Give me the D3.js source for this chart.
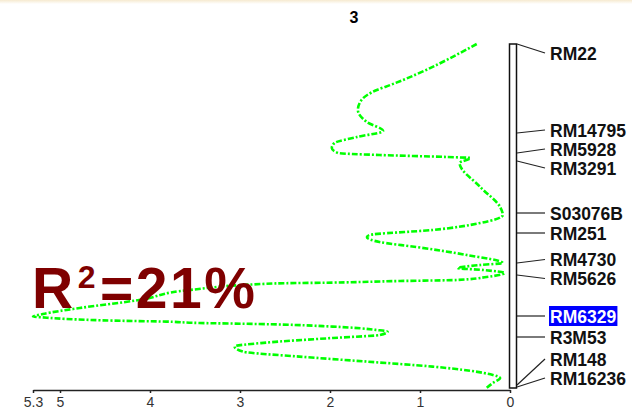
<!DOCTYPE html>
<html>
<head>
<meta charset="utf-8">
<script src="https://cdn.jsdelivr.net/npm/d3@7"></script>
<style>
  body { margin: 0; background: #fff; }
  svg { display: block; }
</style>
</head>
<body>
<div id="chart"></div>
<script>
// chromosome 3 LOD profile
var chromTitle = "3";
var r2Parts = ["R", "2", "=21%"];

var lodTicks = [5.3, 5, 4, 3, 2, 1, 0];

var markerNames = ["RM22", "RM14795", "RM5928", "RM3291", "S03076B", "RM251",
                   "RM4730", "RM5626", "RM6329", "R3M53", "RM148", "RM16236"];
var markerPos = [0, 44.5, 54.5, 58.5, 84.5, 94.5, 109.5, 115.5, 136, 146.5, 170.5, 171.5];
var highlighted = "RM6329";

// position along chromosome (cM) and LOD
var curvePos = [0, 20.5, 23, 28, 33, 39, 43.5, 46.5, 49.5, 52, 54.5, 55.5, 56.5, 57, 59.5,
                71.5, 81.5, 85.5, 89.5, 93, 95.5, 96.5, 99, 101.5, 105.5, 109.5, 110.5,
                112, 113, 114.5, 116.5, 118, 118.5, 119.3, 119.7, 123, 128, 132, 135,
                136.3, 136.7, 137.7, 138.3, 138.8, 139.5, 140, 141.3, 143, 143.8, 145.5,
                147, 149.3, 151.3, 153.8, 156.3, 158.8, 161.3, 165.5, 167, 169.5, 172];
var curveLod = [0.37, 1.33, 1.48, 1.65, 1.69, 1.59, 1.41, 1.70, 1.95, 1.98, 1.91, 1.45, 0.70, 0.44, 0.56,
                0.33, 0.11, 0.08, 0.33, 0.86, 1.56, 1.59, 1.45, 1.04, 0.48, 0.08, 0.33,
                0.58, 0.30, 0.06, 0.26, 0.59, 1.22, 1.97, 2.60, 3.56, 4.12, 4.78, 5.19,
                5.30, 5.19, 4.82, 4.41, 3.82, 3.45, 2.80, 1.97, 1.48, 1.36, 1.45,
                1.97, 2.71, 3.06, 2.97, 2.34, 1.59, 0.86, 0.19, 0.11, 0.19, 0.26];

var width = 632, height = 412;

var svg = d3.select("#chart")
  .append("svg")
    .attr("width", width)
    .attr("height", height);

// faint band on the top edge
var grad = svg.append("defs").append("linearGradient")
    .attr("id", "topband").attr("x1", 0).attr("x2", 0).attr("y1", 0).attr("y2", 1);
grad.append("stop").attr("offset", "0%").attr("stop-color", "#f6ead0");
grad.append("stop").attr("offset", "100%").attr("stop-color", "#ffffff");
svg.append("rect").attr("x", 0).attr("y", 0).attr("width", width).attr("height", 4)
    .attr("fill", "url(#topband)");

var x = d3.scaleLinear().domain([0, 5.3]).range([510, 33]);
var y = d3.scaleLinear().domain([0, 172]).range([44, 388]);

// title
svg.append("text")
    .attr("x", 354).attr("y", 23)
    .attr("text-anchor", "middle")
    .attr("font-family", "Liberation Sans, Arial, sans-serif")
    .attr("font-weight", "bold")
    .attr("font-size", 16)
    .text(chromTitle);

// LOD axis
var xAxis = svg.append("g")
    .attr("transform", "translate(0,390)")
    .call(d3.axisBottom(x)
      .tickValues(lodTicks)
      .tickFormat(function(d){ return d; })
      .tickSizeInner(3)
      .tickSizeOuter(0));
xAxis.select(".domain").attr("stroke", "#222").attr("stroke-width", 1.5);
xAxis.selectAll(".tick line").attr("stroke", "#222").attr("stroke-width", 1.5);
xAxis.selectAll("text")
    .attr("y", 7)
    .attr("fill", "#333")
    .attr("font-family", "Liberation Sans, Arial, sans-serif")
    .attr("font-size", 14);

// LOD curve
var pts = curvePos.map(function(p, i){ return [curveLod[i], p]; });
var line = d3.line()
    .x(function(d){ return x(d[0]); })
    .y(function(d){ return y(d[1]); })
    .curve(d3.curveMonotoneY);

svg.append("path")
    .datum(pts)
    .attr("d", line)
    .attr("fill", "none")
    .attr("stroke", "#00ff00")
    .attr("stroke-width", 2.6)
    .attr("stroke-dasharray", "6,2,2,2");

// chromosome bar
svg.append("rect")
    .attr("x", 509.5).attr("y", y(0))
    .attr("width", 7).attr("height", y(172) - y(0))
    .attr("fill", "#fff")
    .attr("stroke", "#111")
    .attr("stroke-width", 1.5);

// label layout: keep labels apart, clamp to the drawing area
var gap = 19, lo = 53, hi = 378;
var markers = markerNames.map(function(n, i){ return {name: n, py: y(markerPos[i])}; });
var groups = markers.map(function(m){ return {items: [m], c: Math.max(lo, Math.min(hi, m.py))}; });
function gTop(g){ return g.c - (g.items.length - 1) * gap / 2; }
function gBot(g){ return g.c + (g.items.length - 1) * gap / 2; }
var merged = true;
while (merged) {
  merged = false;
  for (var i = 0; i < groups.length - 1; i++) {
    if (gTop(groups[i+1]) - gBot(groups[i]) < gap) {
      var items = groups[i].items.concat(groups[i+1].items);
      var c = d3.mean(items, function(m){ return Math.max(lo, Math.min(hi, m.py)); });
      var half = (items.length - 1) * gap / 2;
      c = Math.max(lo + half, Math.min(hi - half, c));
      groups.splice(i, 2, {items: items, c: c});
      merged = true;
      break;
    }
  }
}
groups.forEach(function(g){
  g.items.forEach(function(m, k){ m.ly = gTop(g) + k * gap; });
});

svg.selectAll(".mline")
  .data(markers)
  .enter().append("line")
    .attr("class", "mline")
    .attr("x1", 517).attr("y1", function(d){ return d.py; })
    .attr("x2", 545).attr("y2", function(d){ return d.ly; })
    .attr("stroke", "#222")
    .attr("stroke-width", 1.2);

var hlBox = svg.append("g");

var labels = svg.selectAll(".mlabel")
  .data(markers)
  .enter().append("text")
    .attr("class", "mlabel")
    .attr("x", 550)
    .attr("y", function(d){ return d.ly + 6.5; })
    .attr("font-family", "Liberation Sans, Arial, sans-serif")
    .attr("font-weight", "bold")
    .attr("font-size", 17.5)
    .attr("fill", function(d){ return d.name === highlighted ? "#fff" : "#111"; })
    .text(function(d){ return d.name; });

labels.filter(function(d){ return d.name === highlighted; }).each(function(d){
  var bb = this.getBBox();
  hlBox.append("rect")
    .attr("x", bb.x - 1).attr("y", d.ly - 10)
    .attr("width", bb.width + 2).attr("height", 20)
    .attr("fill", "#0000ff");
});

// R² annotation
var r2 = svg.append("text")
    .attr("x", 32).attr("y", 308)
    .attr("font-family", "Liberation Sans, Arial, sans-serif")
    .attr("font-weight", "bold")
    .attr("font-size", 57)
    .attr("letter-spacing", 2.5)
    .attr("fill", "#7f0000");
r2.append("tspan").text(r2Parts[0]);
r2.append("tspan").attr("dy", -20).attr("dx", 2).attr("font-size", 32).text(r2Parts[1]);
r2.append("tspan").attr("dy", 20).attr("dx", 2).text(r2Parts[2]);
</script>
</body>
</html>
